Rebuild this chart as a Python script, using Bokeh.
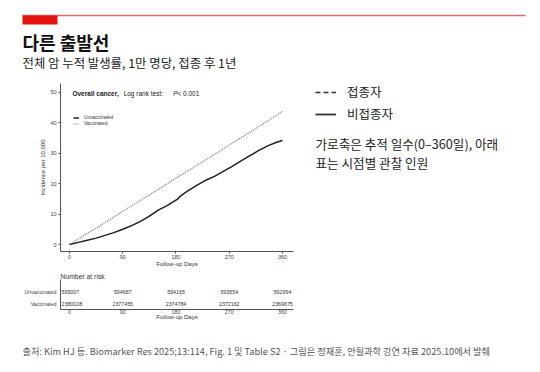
from bokeh.plotting import figure
from bokeh.models import Range1d, Label, Legend, LegendItem, FixedTicker, ColumnDataSource
from bokeh.layouts import column, row
from bokeh.embed import file_html
from bokeh.resources import INLINE
from bokeh.core.properties import value

# ---------------- data ----------------
unvax_days = [0, 15, 30, 45, 60, 75, 90, 105, 120, 135, 150, 165, 175, 182, 188, 200,
              215, 230, 245, 260, 275, 290, 305, 320, 335, 350, 360]
unvax_inc = [0, 0.7, 1.4, 2.1, 3.0, 3.9, 5.0, 6.2, 7.6, 9.3, 11.3, 12.8, 14.0, 14.8, 16.0, 17.6,
             19.4, 21.1, 22.4, 24.0, 25.7, 27.5, 29.2, 30.9, 32.4, 33.6, 34.2]
vax_days = [0, 30, 60, 90, 120, 150, 180, 210, 240, 270, 300, 330, 360]
vax_inc = [0, 3.6, 7.2, 10.9, 14.5, 18.1, 21.8, 25.4, 29.0, 32.7, 36.3, 40.0, 43.7]

risk_days = [0, 90, 180, 270, 360]
risk_unvax = [595007, 594687, 594165, 593554, 592994]
risk_vax = [2380028, 2377455, 2374784, 2372162, 2369675]

x_ticks = [0, 90, 180, 270, 360]
y_ticks = [0, 10, 20, 30, 40, 50]

KR = "Noto Sans CJK KR"
CH = "Liberation Sans"


def bare(p):
    p.axis.visible = False
    p.grid.visible = False
    p.outline_line_color = None
    p.background_fill_color = "white"
    p.border_fill_color = "white"
    return p


# ---------------- header ----------------
head = bare(figure(width=540, height=80, x_range=Range1d(0, 540), y_range=Range1d(80, 0),
                   min_border=0, toolbar_location=None, output_backend="svg", frame_align=False))
head.segment(x0=[22], y0=[15], x1=[525], y1=[15], line_color="#e26a6a", line_width=1.3)
head.quad(left=[22], right=[57], top=[15], bottom=[24], fill_color="#e2140d", line_color=None)
head.text(x=[22], y=[41], text=["다른 출발선"], text_font=value(KR), text_font_style="bold",
          text_font_size="18px", text_baseline="middle", text_color="#111")
head.text(x=[22], y=[62], text=["전체 암 누적 발생률, 1만 명당, 접종 후 1년"], text_font=value(KR),
          text_font_size="12.4px", text_baseline="middle", text_color="#222")

# ---------------- KM chart ----------------
km = figure(width=300, height=189, x_range=Range1d(-15.2, 378.6), y_range=Range1d(-2.3, 52.9),
            min_border_left=60, min_border_right=7, min_border_top=3, min_border_bottom=16,
            toolbar_location=None, output_backend="svg", frame_align=False)
km.grid.visible = False
km.outline_line_color = None
r_unvax = km.line(unvax_days, unvax_inc, line_color="#1e1e1e", line_width=1.5)
r_vax = km.line(vax_days, vax_inc, line_color="#7a7a7a", line_width=1.2, line_dash="1 1")
for ax in (km.xaxis[0], km.yaxis[0]):
    ax.axis_line_color = "#555"
    ax.major_tick_line_color = "#555"
    ax.major_tick_out = 2
    ax.major_tick_in = 0
    ax.minor_tick_line_color = None
    ax.major_label_text_font = CH
    ax.major_label_text_font_size = "5.5px"
    ax.major_label_text_color = "#444"
    ax.axis_label_text_font = CH
    ax.axis_label_text_font_size = "6px"
    ax.axis_label_text_font_style = "normal"
    ax.axis_label_text_color = "#333"
km.xaxis.major_label_standoff = 1
km.xaxis.axis_label_standoff = -1
km.yaxis.major_label_standoff = 2
km.yaxis.axis_label_standoff = 1
km.xaxis.ticker = FixedTicker(ticks=x_ticks)
km.yaxis.ticker = FixedTicker(ticks=y_ticks)
km.xaxis.axis_label = "Follow-up Days"
km.yaxis.axis_label = "Incidence per 10,000"

km.add_layout(Label(x=5, y=49.7, text="Overall cancer,", text_font=CH, text_font_style="bold",
                    text_font_size="6.5px", text_baseline="middle", text_color="#222"))
km.add_layout(Label(x=91.5, y=49.7, text="Log rank test:", text_font=CH,
                    text_font_size="6.5px", text_baseline="middle", text_color="#222"))
km.add_layout(Label(x=175.5, y=49.7, text="P", text_font=CH, text_font_style="italic",
                    text_font_size="6.5px", text_baseline="middle", text_color="#222"))
km.add_layout(Label(x=182.5, y=49.7, text="< 0.001", text_font=CH,
                    text_font_size="6.5px", text_baseline="middle", text_color="#222"))

leg_in = Legend(items=[LegendItem(label="Unvaccinated", renderers=[r_unvax]),
                       LegendItem(label="Vaccinated", renderers=[r_vax])],
                location=(13, 125), label_text_font=CH, label_text_font_size="4.8px",
                label_text_color="#333", glyph_width=6, glyph_height=5, label_height=5,
                label_standoff=5, spacing=1, padding=0, margin=0,
                border_line_alpha=0, background_fill_alpha=0)
km.add_layout(leg_in)

# ---------------- side notes ----------------
side = bare(figure(width=240, height=189, x_range=Range1d(300, 540), y_range=Range1d(269, 80),
                   min_border=0, toolbar_location=None, output_backend="svg", frame_align=False))
hidden = ColumnDataSource(data=dict(x=[0, 1], y=[0, 0]))
r_d = side.line("x", "y", source=hidden, line_color="#333", line_width=1.5, line_dash="5 3")
r_s = side.line("x", "y", source=hidden, line_color="#333", line_width=1.8)
leg_side = Legend(items=[LegendItem(label="접종자", renderers=[r_d]),
                         LegendItem(label="비접종자", renderers=[r_s])],
                  location=(15, 146), label_text_font=KR, label_text_font_size="12.5px",
                  label_text_color="#222", glyph_width=21, glyph_height=14, label_height=14,
                  label_standoff=11, spacing=3, padding=0, margin=0,
                  border_line_alpha=0, background_fill_alpha=0)
side.add_layout(leg_side)
side.text(x=[315, 315], y=[143.3, 161.5],
          text=["가로축은 추적 일수(0–360일), 아래", "표는 시점별 관찰 인원"],
          text_font=value(KR), text_font_size="12.6px", text_baseline="middle", text_color="#222")

# ---------------- number at risk ----------------
tbl = figure(width=540, height=71, x_range=Range1d(-15.2, 378.6), y_range=Range1d(-0.045, 2.68),
             min_border_left=60, min_border_right=247, min_border_top=10, min_border_bottom=31,
             toolbar_location=None, output_backend="svg", title="Number at risk", frame_align=False)
tbl.grid.visible = False
tbl.outline_line_color = None
tbl.title.text_font = CH
tbl.title.text_font_size = "6.8px"
tbl.title.text_font_style = "normal"
tbl.title.text_color = "#333"
tbl.title.align = "left"
tbl.title.standoff = 0
for yv, vals in ((1.5, risk_unvax), (0.5, risk_vax)):
    tbl.text(x=risk_days[:1], y=[yv], text=[str(vals[0])], text_font=value(CH), x_offset=-8,
             text_font_size="5.3px", text_align="left", text_baseline="middle", text_color="#333")
    tbl.text(x=risk_days[1:], y=[yv] * 4, text=[str(v) for v in vals[1:]], text_font=value(CH),
             text_font_size="5.3px", text_align="center", text_baseline="middle", text_color="#333")
for ax in (tbl.xaxis[0], tbl.yaxis[0]):
    ax.axis_line_color = "#555"
    ax.major_tick_line_color = "#555"
    ax.major_tick_out = 0
    ax.major_tick_in = 0
    ax.minor_tick_line_color = None
    ax.major_label_text_font = CH
    ax.major_label_text_font_size = "5.3px"
    ax.major_label_text_color = "#444"
    ax.axis_label_text_font = CH
    ax.axis_label_text_font_size = "6px"
    ax.axis_label_text_font_style = "normal"
    ax.axis_label_text_color = "#333"
    ax.major_label_standoff = 0
    ax.axis_label_standoff = -3
tbl.xaxis.ticker = FixedTicker(ticks=x_ticks)
tbl.xaxis.axis_label = "Follow-up Days"
tbl.yaxis.ticker = FixedTicker(ticks=[0.5, 1.5])
tbl.yaxis.major_label_overrides = {0.5: "Vaccinated", 1.5: "Unvaccinated"}
tbl.yaxis.major_label_standoff = 4

# ---------------- footer ----------------
foot = bare(figure(width=540, height=32, x_range=Range1d(0, 540), y_range=Range1d(372, 340),
                   min_border=0, toolbar_location=None, output_backend="svg", frame_align=False))
foot.text(x=[22], y=[350.7],
          text=["출처: Kim HJ 등. Biomarker Res 2025;13:114, Fig. 1 및 Table S2 · 그림은 정재훈, 안될과학 강연 자료 2025.10에서 발췌"],
          text_font=value(KR), text_font_size="9.2px", text_baseline="middle", text_color="#555")

layout = column(head, row(km, side), tbl, foot)
open("out.html", "w").write(file_html(layout, INLINE))
